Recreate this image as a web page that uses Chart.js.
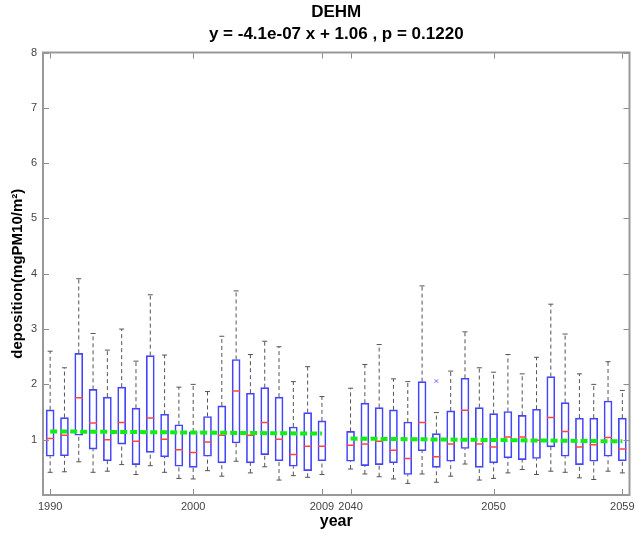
<!DOCTYPE html>
<html>
<head>
<meta charset="utf-8">
<script src="https://cdn.jsdelivr.net/npm/chart.js@4.4.0/dist/chart.umd.min.js"></script>
<style>
  html, body { margin: 0; padding: 0; background: #fff; }
  #wrap { width: 635px; height: 535px; }
</style>
</head>
<body>
<div id="wrap"><canvas id="boxChart" width="635" height="535"></canvas></div>
<script>
// years of the two periods (the axis leaves a small gap between them)
var years = [1990, 1991, 1992, 1993, 1994, 1995, 1996, 1997, 1998, 1999,
             2000, 2001, 2002, 2003, 2004, 2005, 2006, 2007, 2008, 2009,
             2040, 2041, 2042, 2043, 2044, 2045, 2046, 2047, 2048, 2049,
             2050, 2051, 2052, 2053, 2054, 2055, 2056, 2057, 2058, 2059];

var whiskerLow = [0.41, 0.42, 0.60, 0.41, 0.43, 0.55, 0.37, 0.53, 0.41, 0.30,
                  0.29, 0.44, 0.34, 0.61, 0.40, 0.51, 0.27, 0.35, 0.32, 0.37,
                  0.47, 0.38, 0.33, 0.29, 0.21, 0.38, 0.23, 0.34, 0.56, 0.27,
                  0.30, 0.40, 0.46, 0.37, 0.43, 0.41, 0.31, 0.28, 0.43, 0.40];
var q1 = [0.70, 0.71, 1.08, 0.83, 0.62, 0.92, 0.55, 0.77, 0.69, 0.52,
          0.50, 0.70, 0.58, 0.94, 0.58, 0.73, 0.62, 0.52, 0.44, 0.62,
          0.61, 0.53, 0.55, 0.58, 0.37, 0.80, 0.50, 0.61, 0.84, 0.50,
          0.58, 0.67, 0.64, 0.66, 0.87, 0.70, 0.55, 0.61, 0.70, 0.62];
var medians = [1.02, 1.08, 1.76, 1.30, 1.00, 1.31, 0.97, 1.39, 1.01, 0.82,
               0.77, 0.96, 1.08, 1.88, 1.08, 1.31, 1.01, 0.73, 0.88, 0.88,
               0.90, 0.92, 0.97, 0.81, 0.66, 1.31, 0.69, 0.92, 1.53, 0.92,
               0.87, 1.05, 1.05, 0.99, 1.40, 1.15, 0.87, 0.91, 1.04, 0.83];
var q3 = [1.54, 1.40, 2.56, 1.91, 1.77, 1.95, 1.57, 2.52, 1.46, 1.27,
          1.14, 1.42, 1.61, 2.45, 1.84, 1.94, 1.77, 1.23, 1.49, 1.34,
          1.15, 1.66, 1.58, 1.54, 1.32, 2.05, 1.11, 1.52, 2.11, 1.58,
          1.47, 1.51, 1.44, 1.55, 2.14, 1.67, 1.39, 1.39, 1.70, 1.39];
var whiskerHigh = [2.60, 2.30, 3.91, 2.92, 2.62, 3.00, 2.42, 3.62, 2.53, 1.95,
                   2.00, 1.87, 2.87, 3.69, 2.54, 2.78, 2.68, 2.05, 2.32, 1.78,
                   1.93, 2.36, 2.72, 2.10, 2.05, 3.78, 1.49, 2.24, 2.95, 2.30,
                   2.22, 2.54, 2.19, 2.49, 3.45, 2.91, 2.19, 2.00, 2.41, 1.89];

var outlierYears = [2046];
var outlierValues = [2.06];

// fitted trend, drawn per period
var trendYears = [1990, 2009, 2040, 2059];
var trendValues = [1.15, 1.11, 1.02, 0.97];

var tickYears = [1990, 2000, 2009, 2040, 2050, 2059];
var tickLabels = ['1990', '2000', '2009', '2040', '2050', '2059'];

var FONT = "'Liberation Sans', Arial, Helvetica, sans-serif";

// the second period sits right after the first one on the axis
function axisPos(year) {
    return year > 2020 ? year - 29 : year;
}

var boxData = years.map((y, i) => ({ x: axisPos(y), y: [q1[i], q3[i]] }));
var medianData = years.map((y, i) => ({ x: axisPos(y), y: medians[i] }));
var capData = [];
var whiskerData = [];
years.forEach(function (y, i) {
    var x = axisPos(y);
    capData.push({ x: x, y: whiskerHigh[i] }, { x: x, y: whiskerLow[i] });
    whiskerData.push({ x: x, y: q3[i] }, { x: x, y: whiskerHigh[i] }, { x: x, y: null });
    whiskerData.push({ x: x, y: whiskerLow[i] }, { x: x, y: q1[i] }, { x: x, y: null });
});
var outlierData = outlierYears.map((y, i) => ({ x: axisPos(y), y: outlierValues[i] }));
var trendData = [
    { x: axisPos(trendYears[0]), y: trendValues[0] },
    { x: axisPos(trendYears[1]), y: trendValues[1] },
    { x: axisPos(trendYears[1]) + 1, y: null },
    { x: axisPos(trendYears[2]), y: trendValues[2] },
    { x: axisPos(trendYears[3]), y: trendValues[3] }
];

// matlab style frame with ticks pointing inward
var framePlugin = {
    id: 'frame',
    afterDraw: function (chart) {
        var ctx = chart.ctx, a = chart.chartArea;
        var xs = chart.scales.x, ys = chart.scales.y;
        ctx.save();
        ctx.strokeStyle = '#8c8c8c';
        ctx.lineWidth = 1;
        xs.ticks.forEach(function (t) {
            var px = Math.round(xs.getPixelForValue(t.value)) + 0.5;
            ctx.beginPath();
            ctx.moveTo(px, a.bottom); ctx.lineTo(px, a.bottom - 6);
            ctx.moveTo(px, a.top); ctx.lineTo(px, a.top + 6);
            ctx.stroke();
        });
        ys.ticks.forEach(function (t) {
            var py = Math.round(ys.getPixelForValue(t.value)) + 0.5;
            ctx.beginPath();
            ctx.moveTo(a.left, py); ctx.lineTo(a.left + 6, py);
            ctx.moveTo(a.right, py); ctx.lineTo(a.right - 6, py);
            ctx.stroke();
        });
        ctx.lineWidth = 2;
        ctx.strokeStyle = '#999';
        ctx.strokeRect(a.left, a.top, a.right - a.left, a.bottom - a.top);
        ctx.restore();
    }
};

var ctx = document.getElementById('boxChart').getContext('2d');
var boxChart = new Chart(ctx, {
    type: 'bar',
    data: {
        datasets: [
            {
                type: 'line',
                data: trendData,
                borderColor: '#11ee11',
                borderWidth: 4,
                borderDash: [7, 3],
                pointRadius: 0,
                spanGaps: false,
                order: 0
            },
            {
                type: 'scatter',
                data: outlierData,
                pointStyle: 'crossRot',
                pointRadius: 2.5,
                borderColor: '#6666ff',
                borderWidth: 1,
                order: 1
            },
            {
                type: 'scatter',
                data: medianData,
                pointStyle: 'line',
                pointRadius: 4,
                borderColor: '#ff4444',
                borderWidth: 1.5,
                order: 1
            },
            {
                type: 'scatter',
                data: capData,
                pointStyle: 'line',
                pointRadius: 2.5,
                borderColor: '#555',
                borderWidth: 1,
                order: 2
            },
            {
                type: 'line',
                data: whiskerData,
                borderColor: '#555',
                borderWidth: 1,
                borderDash: [4, 3],
                pointRadius: 0,
                spanGaps: false,
                order: 3
            },
            {
                type: 'bar',
                data: boxData,
                backgroundColor: 'rgba(0,0,0,0)',
                borderColor: '#4444ff',
                borderWidth: 1,
                borderSkipped: false,
                barThickness: 8,
                order: 4
            }
        ]
    },
    options: {
        responsive: false,
        animation: false,
        layout: { padding: { left: 0, right: 4, top: 0, bottom: 0 } },
        plugins: {
            legend: { display: false },
            tooltip: { enabled: false },
            title: {
                display: true,
                fullSize: false,
                text: ['DEHM', 'y = -4.1e-07 x + 1.06 , p = 0.1220'],
                color: '#000',
                font: { family: FONT, size: 17, weight: 'bold', lineHeight: 1.25 },
                padding: { top: 2, bottom: 8 }
            }
        },
        scales: {
            x: {
                type: 'linear',
                min: 1989.5,
                max: 2030.5,
                offset: false,
                grid: { display: false, drawTicks: false },
                border: { display: false },
                afterBuildTicks: function (scale) {
                    scale.ticks = tickYears.map(y => ({ value: axisPos(y) }));
                },
                afterFit: function (scale) {
                    scale.height = 40;
                    scale.paddingLeft = 0;
                    scale.paddingRight = 0;
                },
                ticks: {
                    autoSkip: false,
                    maxRotation: 0,
                    padding: 5,
                    color: '#444',
                    font: { family: FONT, size: 11 },
                    callback: function (value, index) {
                        return tickLabels[index];
                    }
                },
                title: {
                    display: true,
                    text: 'year',
                    color: '#000',
                    font: { family: FONT, size: 16, weight: 'bold' },
                    padding: { top: 0, bottom: 4 }
                }
            },
            y: {
                min: 0,
                max: 8,
                grid: { display: false, drawTicks: false },
                border: { display: false },
                afterFit: function (scale) {
                    scale.width = 43;
                    scale.paddingTop = 0;
                    scale.paddingBottom = 0;
                },
                ticks: {
                    stepSize: 1,
                    padding: 6,
                    color: '#444',
                    font: { family: FONT, size: 11 },
                    callback: function (value) {
                        return value === 0 ? '' : value;
                    }
                },
                title: {
                    display: true,
                    text: 'deposition(mgPM10/m²)',
                    color: '#000',
                    font: { family: FONT, size: 15, weight: 'bold' },
                    padding: { top: 9, bottom: 0 }
                }
            }
        }
    },
    plugins: [framePlugin]
});
</script>
</body>
</html>
